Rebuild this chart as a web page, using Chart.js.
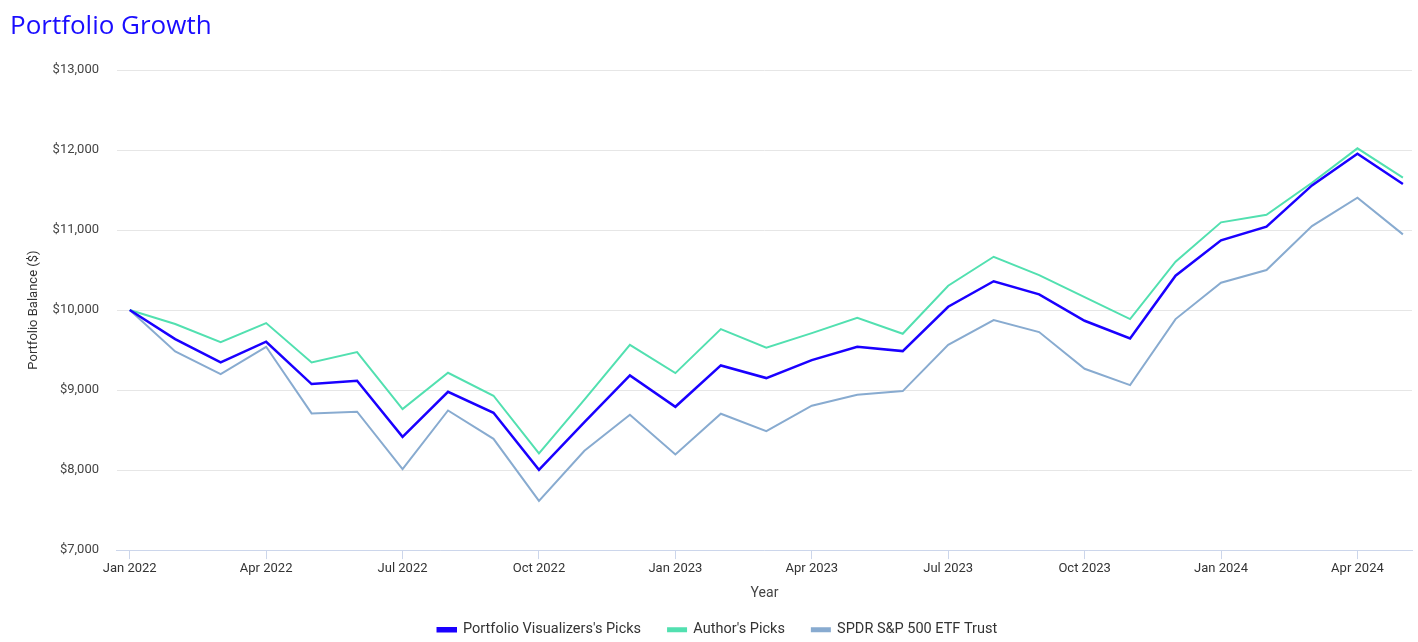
<!DOCTYPE html>
<html>
<head>
<meta charset="utf-8">
<script src="https://cdn.jsdelivr.net/npm/chart.js@4"></script>
<style>
  html, body { margin: 0; padding: 0; background: #fff; overflow: hidden; }
  #wrap { position: relative; width: 1418px; height: 648px; }
  #title {
    position: absolute; left: 10px; top: 7px;
    font-family: "Open Sans", sans-serif; font-size: 26px; font-weight: 500;
    color: #1a0dff; line-height: 34px; z-index: 2;
  }
</style>
</head>
<body>
<div id="wrap">
  <div id="title">Portfolio Growth</div>
  <canvas id="growthChart"></canvas>
</div>
<script>
const months = [
  "Jan 2022", "Feb 2022", "Mar 2022", "Apr 2022", "May 2022", "Jun 2022",
  "Jul 2022", "Aug 2022", "Sep 2022", "Oct 2022", "Nov 2022", "Dec 2022",
  "Jan 2023", "Feb 2023", "Mar 2023", "Apr 2023", "May 2023", "Jun 2023",
  "Jul 2023", "Aug 2023", "Sep 2023", "Oct 2023", "Nov 2023", "Dec 2023",
  "Jan 2024", "Feb 2024", "Mar 2024", "Apr 2024", "May 2024"
];
const tickMonths = ["Jan 2022", "Apr 2022", "Jul 2022", "Oct 2022", "Jan 2023", "Apr 2023",
  "Jul 2023", "Oct 2023", "Jan 2024", "Apr 2024"];

const pvPicks = [10000, 9637, 9345, 9604, 9075, 9116, 8416, 8979, 8716, 8004, 8600, 9183,
  8791, 9308, 9150, 9375, 9541, 9487, 10041, 10360, 10196, 9866, 9646, 10429,
  10871, 11041, 11558, 11954, 11575];
const authorPicks = [10000, 9825, 9600, 9837, 9345, 9475, 8762, 9216, 8929, 8208, 8880, 9566,
  9212, 9762, 9529, 9712, 9904, 9704, 10304, 10666, 10437, 10162, 9887, 10604,
  11096, 11191, 11591, 12021, 11654];
const spyTrust = [10000, 9483, 9200, 9541, 8708, 8729, 8012, 8745, 8391, 7616, 8241, 8691,
  8195, 8704, 8487, 8804, 8941, 8987, 9566, 9875, 9725, 9266, 9062, 9887,
  10342, 10500, 11050, 11404, 10946];

const toPoints = arr => arr.map((v, i) => ({ x: i, y: v }));

const ctx = document.getElementById("growthChart").getContext("2d");
new Chart(ctx, {
  type: "line",
  data: {
    datasets: [
      { label: "Portfolio Visualizers's Picks", data: toPoints(pvPicks), borderColor: "#1a00ff", backgroundColor: "#1a00ff", borderWidth: 2.5 },
      { label: "Author's Picks", data: toPoints(authorPicks), borderColor: "#52e0b0", backgroundColor: "#52e0b0", borderWidth: 2 },
      { label: "SPDR S&P 500 ETF Trust", data: toPoints(spyTrust), borderColor: "#88abd0", backgroundColor: "#88abd0", borderWidth: 2 }
    ]
  },
  options: {
    responsive: true,
    maintainAspectRatio: false,
    animation: false,
    elements: { point: { radius: 0 }, line: { tension: 0 } },
    layout: { padding: { left: 23, right: 6, top: 70, bottom: 1 } },
    scales: {
      x: {
        type: "linear",
        min: -0.28,
        max: 28.2,
        afterBuildTicks: scale => {
          scale.ticks = tickMonths.map(m => ({ value: months.indexOf(m) }));
        },
        ticks: {
          callback: v => months[v] || "",
          color: "#333",
          font: { family: "Roboto", size: 13 },
          maxRotation: 0,
          padding: 2
        },
        grid: { drawOnChartArea: false, color: "#ccd6eb", tickLength: 9 },
        border: { color: "#ccd6eb", width: 1 },
        title: { display: true, text: "Year", color: "#444", font: { family: "Roboto", size: 14 }, padding: { top: 6, bottom: -6 } }
      },
      y: {
        min: 7000,
        max: 13000,
        ticks: {
          stepSize: 1000,
          callback: v => "$" + v.toLocaleString("en-US"),
          color: "#444",
          font: { family: "Roboto", size: 13 },
          padding: 18
        },
        grid: { color: "#e6e6e6", drawTicks: false },
        border: { display: false },
        title: { display: true, text: "Portfolio Balance ($)", color: "#333", font: { family: "Roboto", size: 13 }, padding: { top: 3, bottom: -7 } }
      }
    },
    plugins: {
      legend: {
        position: "bottom",
        labels: {
          color: "#333",
          font: { family: "Roboto", size: 14.5, lineHeight: 1 },
          boxWidth: 18,
          boxHeight: 3,
          padding: 27
        }
      },
      tooltip: { enabled: false }
    }
  }
});
</script>
</body>
</html>
